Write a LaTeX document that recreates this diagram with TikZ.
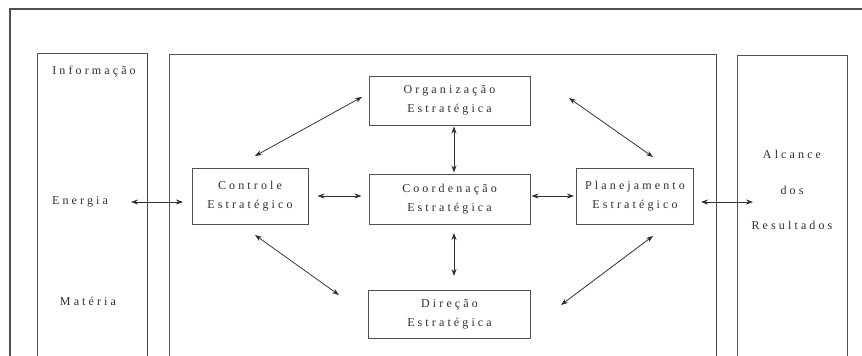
\documentclass[tikz,border=0pt]{standalone}
\usepackage{fontspec}
\setmainfont[LetterSpace=26]{Liberation Serif}
\usetikzlibrary{arrows.meta}
\definecolor{ink}{HTML}{2E2E2E}
\definecolor{frame}{HTML}{505050}
\tikzset{
  box/.style={draw=frame, line width=0.9pt, text=ink, align=center, inner sep=0pt,
    font=\fontsize{12}{19}\selectfont},
  col/.style={draw=frame, line width=0.9pt},
  lbl/.style={text=ink, inner sep=0pt, font=\fontsize{12}{13}\selectfont},
  link/.style={draw=ink, line width=0.75pt, {Stealth[length=7pt,width=5pt]}-{Stealth[length=7pt,width=5pt]}},
}
\begin{document}
\begin{tikzpicture}[x=1pt,y=-1pt]
\useasboundingbox (0,0) rectangle (862,356);
\fill[white] (0,0) rectangle (862,356);
\begin{scope}
\clip (0,0) rectangle (862,356);
% outer frame (cut off at right and bottom)
\draw[frame, line width=1.1pt] (10,370) -- (10,9) -- (870,9);
% three columns (cut off at bottom)
\node[col, minimum width=110pt, minimum height=330pt, anchor=north west] (left) at (37,53) {};
\node[col, minimum width=547pt, minimum height=330pt, anchor=north west] (center) at (169,54) {};
\node[col, minimum width=110pt, minimum height=330pt, anchor=north west] (right) at (737,55) {};
\end{scope}

% column labels
\node[lbl] (info) at (94,72) {Informação};
\node[lbl] (energia) at (80,202) {Energia};
\node[lbl] (materia) at (88,301) {Matéria};
\node[lbl, align=center, font=\fontsize{12}{35.5}\selectfont] (alcance) at (792,190) {Alcance\\dos\\Resultados};

% strategic boxes
\node[box, minimum width=161pt, minimum height=49pt] (org) at (449.5,100.5) {Organização\\Estratégica};
\node[box, minimum width=116pt, minimum height=56pt] (ctrl) at (250,196) {Controle\\Estratégico};
\node[box, minimum width=161pt, minimum height=50pt] (coord) at (449.5,199) {Coordenação\\Estratégica};
\node[box, minimum width=117pt, minimum height=56pt] (plan) at (635,196) {Planejamento\\Estratégico};
\node[box, minimum width=162pt, minimum height=48pt] (dir) at (449.5,314) {Direção\\Estratégica};

\coordinate (eL) at (131,202);
\coordinate (eR) at (183,202);
\coordinate (aL) at (701,202);
\coordinate (aR) at (753,202);

\draw[link] (eL) -- (eR);
\draw[link] (aL) -- (aR);
\draw[link] ([xshift=9pt]ctrl.east) -- ([xshift=-7pt]coord.west |- ctrl.east);
\draw[link] (coord.east |- plan.west) ++(1pt,0) -- ([xshift=-2pt]plan.west);
\draw[link] ([yshift=-1pt]org.south -| 454,0) -- ([yshift=1pt]coord.north -| 454,0);
\draw[link] (454,233) -- (454,276);
\draw[link] (362,97) -- (255,156);
\draw[link] (569,98) -- (653,157);
\draw[link] (255,235) -- (339,295);
\draw[link] (653,236) -- (561,305);
\end{tikzpicture}
\end{document}
